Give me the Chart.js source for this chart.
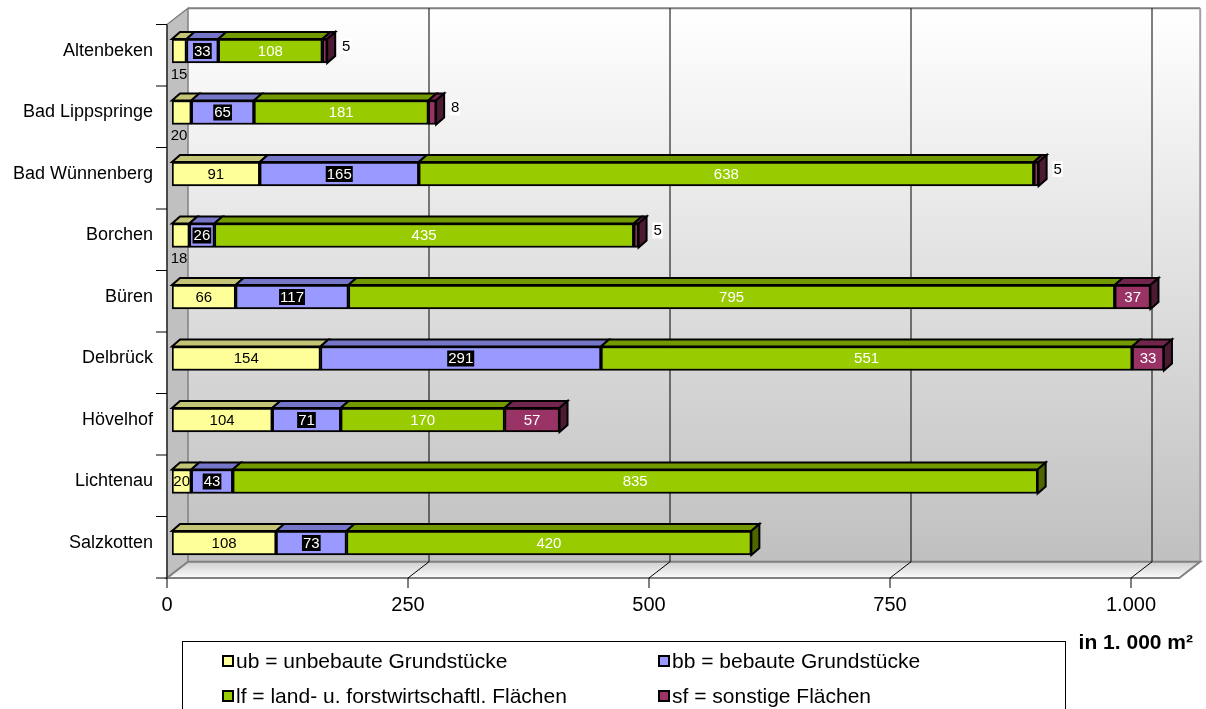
<!DOCTYPE html>
<html>
<head>
<meta charset="utf-8">
<script src="https://cdn.jsdelivr.net/npm/chart.js"></script>
<style>
  body { margin: 0; background: #fff; }
  #wrap { width: 1206px; height: 709px; position: relative; }
</style>
</head>
<body>
<div id="wrap"><canvas id="myChart"></canvas></div>
<script>
const categories = ['Altenbeken', 'Bad Lippspringe', 'Bad Wünnenberg', 'Borchen', 'Büren', 'Delbrück', 'Hövelhof', 'Lichtenau', 'Salzkotten'];
const ubValues = [15, 20, 91, 18, 66, 154, 104, 20, 108];
const bbValues = [33, 65, 165, 26, 117, 291, 71, 43, 73];
const lfValues = [108, 181, 638, 435, 795, 551, 170, 835, 420];
const sfValues = [5, 8, 5, 5, 37, 33, 57, null, null];
const tickValues = [0, 250, 500, 750, 1000];
const seriesLabels = ['ub = unbebaute Grundstücke', 'bb = bebaute Grundstücke', 'lf = land- u. forstwirtschaftl. Flächen', 'sf = sonstige Flächen'];
const unitLabel = 'in 1. 000 m²';

const frontColors = ['#FFFF99', '#9999FF', '#99CC00', '#993366'];
const topColors = ['#C4C477', '#7676C8', '#739900', '#73264D'];
const sideColors = ['#99995C', '#5C5C99', '#4D6600', '#4D1A33'];

// offsets of the pseudo 3D planes relative to the bar front faces
const FRONT = { dx: -5, dy: 4.25 };
const BACK = { dx: 16, dy: -12 };
const DEPTH = { dx: 8, dy: -7 };
const FONT = '"Liberation Sans", Arial, sans-serif';

function fmt(v) {
    return v >= 1000 ? Math.floor(v / 1000) + '.' + String(v % 1000).padStart(3, '0') : String(v);
}

function poly(ctx, pts, fill, stroke, lw) {
    ctx.beginPath();
    pts.forEach((p, i) => i ? ctx.lineTo(p[0], p[1]) : ctx.moveTo(p[0], p[1]));
    ctx.closePath();
    if (fill) { ctx.fillStyle = fill; ctx.fill(); }
    if (stroke) { ctx.strokeStyle = stroke; ctx.lineWidth = lw || 1; ctx.stroke(); }
}

function line(ctx, x1, y1, x2, y2, color, lw) {
    ctx.beginPath();
    ctx.moveTo(x1, y1);
    ctx.lineTo(x2, y2);
    ctx.strokeStyle = color;
    ctx.lineWidth = lw || 1;
    ctx.stroke();
}

const scene3d = {
    id: 'scene3d',
    beforeDraw(chart) {
        const { ctx, chartArea: a, scales: { x } } = chart;
        const fx0 = a.left + FRONT.dx, fy0 = a.bottom + FRONT.dy;
        const bx0 = a.left + BACK.dx, by0 = a.bottom + BACK.dy;
        const fyTop = a.top + FRONT.dy, byTop = a.top + BACK.dy;
        const bxR = a.right + BACK.dx, fxR = a.right + FRONT.dx;
        ctx.save();

        // back wall
        let g = ctx.createLinearGradient(0, byTop, 0, by0);
        g.addColorStop(0, '#ffffff');
        g.addColorStop(1, '#c0c0c0');
        ctx.fillStyle = g;
        ctx.fillRect(bx0, byTop, bxR - bx0, by0 - byTop);
        line(ctx, bx0, byTop, bxR, byTop, '#808080', 2);
        line(ctx, bxR, byTop, bxR, by0, '#a0a0a0', 2);

        // left wall
        poly(ctx, [[fx0, fyTop], [bx0, byTop], [bx0, by0], [fx0, fy0]], '#c0c0c0', '#808080', 1.5);

        // floor
        g = ctx.createLinearGradient(0, by0, 0, fy0);
        g.addColorStop(0, '#cfcfcf');
        g.addColorStop(1, '#fbfbfb');
        poly(ctx, [[fx0, fy0], [bx0, by0], [bxR, by0], [fxR, fy0]], g, '#808080', 2);

        // gridlines on wall and floor, ticks on front edge
        tickValues.forEach(v => {
            const px = x.getPixelForValue(v);
            if (v > 0) {
                line(ctx, px + BACK.dx, byTop, px + BACK.dx, by0, '#000', 1);
                line(ctx, px + BACK.dx, by0, px + FRONT.dx, fy0, '#000', 1);
            }
            line(ctx, px + FRONT.dx, fy0, px + FRONT.dx, fy0 + 10, '#000', 1);
        });

        // category axis
        line(ctx, fx0, fyTop, fx0, fy0, '#000', 1);
        const n = categories.length;
        for (let k = 0; k <= n; k++) {
            const y = a.top + k * a.height / n + FRONT.dy;
            line(ctx, fx0 - 11, y, fx0, y, '#000', 1);
        }
        ctx.restore();
    },
    afterDatasetsDraw(chart) {
        const ctx = chart.ctx;
        const sets = chart.data.datasets;
        ctx.save();
        ctx.lineJoin = 'miter';

        // top faces and the right face of each bar
        categories.forEach((c, i) => {
            let last = null;
            sets.forEach((ds, di) => {
                if (!ds.data[i]) return;
                const el = chart.getDatasetMeta(di).data[i];
                const top = el.y - el.height / 2;
                poly(ctx, [[el.base, top], [el.base + DEPTH.dx, top + DEPTH.dy], [el.x + DEPTH.dx, top + DEPTH.dy], [el.x, top]],
                    topColors[di], '#000', 2);
                last = { el, di };
            });
            if (last) {
                const el = last.el, top = el.y - el.height / 2, bot = el.y + el.height / 2;
                poly(ctx, [[el.x, top], [el.x + DEPTH.dx, top + DEPTH.dy], [el.x + DEPTH.dx, bot + DEPTH.dy], [el.x, bot]],
                    sideColors[last.di], '#000', 2);
            }
        });

        // value labels
        ctx.font = '15px ' + FONT;
        ctx.textAlign = 'center';
        ctx.textBaseline = 'middle';
        const label = (text, x, y, color, bg) => {
            if (bg) {
                const w = ctx.measureText(text).width;
                ctx.fillStyle = bg;
                ctx.fillRect(x - w / 2 - 1, y - 8, w + 2, 16);
            }
            ctx.fillStyle = color;
            ctx.fillText(text, x, y + 0.5);
        };
        sets.forEach((ds, di) => {
            const meta = chart.getDatasetMeta(di);
            ds.data.forEach((v, i) => {
                if (!v) return;
                const el = meta.data[i];
                const w = el.x - el.base;
                const cx = (el.x + el.base) / 2;
                const text = fmt(v);
                if (di === 0 && w < 22 && sfValues[i]) {
                    label(text, el.base + 7, el.y + el.height / 2 + 11, '#000');
                } else if (di === 3 && w < 22) {
                    label(text, el.x + 19, el.y - 5, '#000', '#fff');
                } else if (di === 0) {
                    label(text, cx, el.y, '#000');
                } else if (di === 1) {
                    label(text, cx, el.y, '#fff', '#000');
                } else {
                    label(text, cx, el.y, '#fff');
                }
            });
        });
        ctx.restore();
    },
    afterDraw(chart) {
        const ctx = chart.ctx;
        ctx.save();
        // legend box
        ctx.strokeStyle = '#000';
        ctx.lineWidth = 1;
        ctx.strokeRect(182.5, 641.5, 883, 90);
        const cols = [223, 659], rows = [661, 696];
        ctx.font = '21px ' + FONT;
        ctx.textAlign = 'left';
        ctx.textBaseline = 'middle';
        seriesLabels.forEach((t, k) => {
            const x = cols[k % 2], y = rows[Math.floor(k / 2)];
            ctx.fillStyle = frontColors[k];
            ctx.fillRect(x, y - 5, 10, 10);
            ctx.lineWidth = 2;
            ctx.strokeRect(x, y - 5, 10, 10);
            ctx.fillStyle = '#000';
            ctx.fillText(t, x + 13, y + 1);
        });
        // unit label
        ctx.font = 'bold 21px ' + FONT;
        ctx.textAlign = 'right';
        ctx.fillText(unitLabel, 1193, 643);
        ctx.restore();
    }
};

const makeSet = (label, data, k) => ({
    label: label,
    data: data,
    backgroundColor: frontColors[k],
    borderColor: '#000',
    borderWidth: 2,
    borderSkipped: false,
    barThickness: 24
});

new Chart(document.getElementById('myChart'), {
    type: 'bar',
    data: {
        labels: categories,
        datasets: [
            makeSet(seriesLabels[0], ubValues, 0),
            makeSet(seriesLabels[1], bbValues, 1),
            makeSet(seriesLabels[2], lfValues, 2),
            makeSet(seriesLabels[3], sfValues, 3)
        ]
    },
    options: {
        indexAxis: 'y',
        responsive: true,
        maintainAspectRatio: false,
        animation: false,
        events: [],
        layout: { padding: { left: 0, right: 21.8, top: 20.25, bottom: 0 } },
        plugins: { legend: { display: false }, tooltip: { enabled: false } },
        scales: {
            x: {
                stacked: true,
                min: 0,
                max: 1050,
                afterFit: s => { s.height = 135.25; s.paddingLeft = 0; s.paddingRight = 0; },
                afterBuildTicks: s => { s.ticks = tickValues.map(v => ({ value: v })); },
                grid: { display: false, drawTicks: false },
                border: { display: false },
                ticks: {
                    padding: 20,
                    labelOffset: -5,
                    maxRotation: 0,
                    autoSkip: false,
                    color: '#000',
                    font: { size: 20, family: FONT },
                    callback: v => fmt(v)
                }
            },
            y: {
                stacked: true,
                afterFit: s => { s.width = 172; s.paddingTop = 0; s.paddingBottom = 0; },
                grid: { display: false, drawTicks: false },
                border: { display: false },
                ticks: { padding: 19, color: '#000', font: { size: 18, family: FONT } }
            }
        }
    },
    plugins: [scene3d]
});
</script>
</body>
</html>
